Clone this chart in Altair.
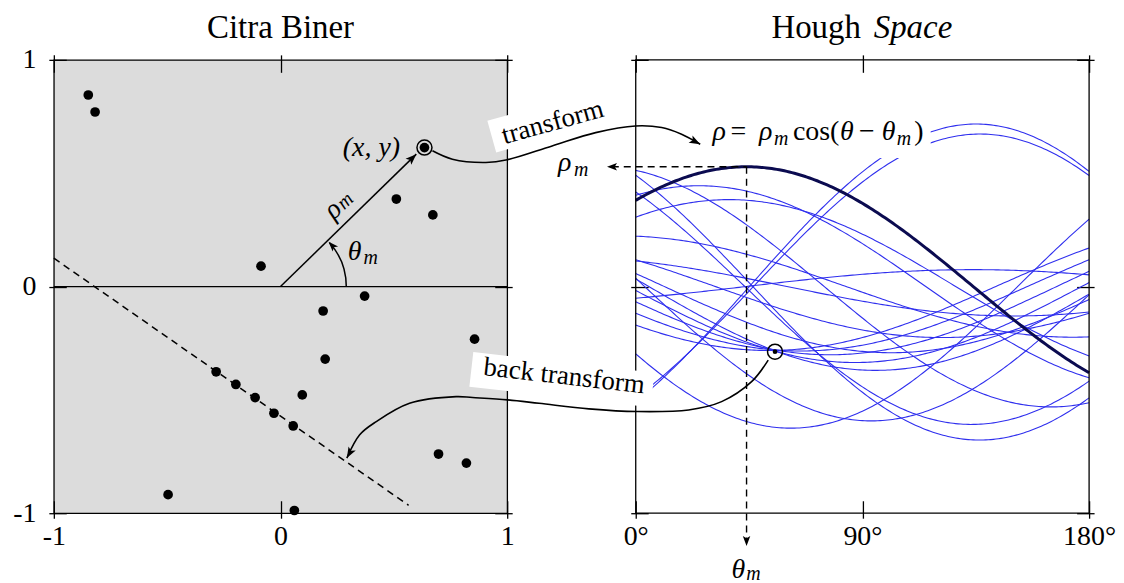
import altair as alt
import pandas as pd

SERIF = "Liberation Serif"

# ---------------- data ----------------
# binary image foreground points (x, y)
PX = [-0.848, -0.818, -0.086, 0.635, 0.511, 0.672, -0.284, -0.197, -0.112, -0.029,
      0.056, -0.496, 0.061, 0.371, 0.188, 0.197, 0.096, 0.856, 0.697, 0.820]
PY = [0.845, 0.770, 0.090, 0.613, 0.386, 0.316, -0.376, -0.432, -0.490, -0.559,
      -0.615, -0.918, -0.988, -0.042, -0.108, -0.320, -0.478, -0.232, -0.739, -0.779]
HILITE = 3                      # index of the (x, y) point
X_TICKS = [-1, 0, 1]
Y_TICKS = [-1, 0, 1]
TH_TICKS = [0, 90, 180]
RHO_MAX = 1.67
RHO_TICKS = [-RHO_MAX, 0, RHO_MAX]

# detected line (dashed) in image space
DASH_X = [-1.0, 0.565]
DASH_Y = [0.125, -0.965]
# rho_m vector tip, theta_m
RHO_TIP = (0.599, 0.584)
THETA_M = 44.0
RHO_M = 0.8826
# intersection of the collinear points' curves in Hough space
PEAK = (55.3, -0.48)

# annotation curves (Hough-space units: degrees, rho)
TR_T = [-80.7, -72.8, -59.5, -51.0, -33.2, -15.9, -0.1, 10.3, 18.2, 25.6]
TR_R = [1.000, 0.938, 0.914, 0.934, 1.036, 1.134, 1.183, 1.171, 1.122, 1.048]
BK_T = [52.6, 46.0, 34.1, 21.0, 0.5, -18.6, -38.4, -50.9, -64.8, -71.3, -89.8, -103.0, -109.6, -114.7]
BK_R = [-0.542, -0.701, -0.848, -0.909, -0.921, -0.901, -0.860, -0.835, -0.818, -0.811, -0.860, -0.995, -1.092, -1.264]

W = 455
H = 455
BLUE = "#2f2fee"
NAVY = "#0b0b50"
ARROW = "M0,0L-0.75,2L0,1.55L0.75,2Z"

pts = pd.DataFrame({"x": PX, "y": PY, "id": list(range(len(PX)))})

xs = alt.Scale(domain=[-1, 1], nice=False, zero=False)
ys = alt.Scale(domain=[-1, 1], nice=False, zero=False)
ts = alt.Scale(domain=[0, 180], nice=False, zero=False)
rs = alt.Scale(domain=[-RHO_MAX, RHO_MAX], nice=False, zero=False)


def ax(orient, values, labels=True, pad=5, expr="'' + datum.value"):
    kw = dict(orient=orient, values=values, offset=-12.5, tickSize=17.5, tickWidth=1.3,
              tickColor="black", domain=False, grid=False, title=None)
    if labels:
        kw.update(labelFont=SERIF, labelFontSize=28, labelColor="black", labelPadding=pad,
                  labelExpr=expr, labelFlush=False, labelOverlap=False)
    else:
        kw.update(labels=False)
    return alt.Axis(**kw)


def P(xscale, yscale, xf="x", yf="y"):
    return dict(x=alt.X(f"{xf}:Q", scale=xscale, axis=None),
                y=alt.Y(f"{yf}:Q", scale=yscale, axis=None))


def one(x, y, **more):
    d = {"x": [x], "y": [y]}
    d.update({k: [v] for k, v in more.items()})
    return pd.DataFrame(d)


def text(xscale, yscale, x, y, s, size=28, style="normal", align="center",
         baseline="middle", angle=0):
    return alt.Chart(one(x, y)).mark_text(
        text=s, font=SERIF, fontSize=size, fontStyle=style, align=align,
        baseline=baseline, angle=angle, color="black").encode(**P(xscale, yscale))


def head(xscale, yscale, x, y, bearing, size=121):
    return alt.Chart(one(x, y)).mark_point(
        shape=ARROW, size=size, filled=True, color="black", opacity=1,
        strokeWidth=0, angle=bearing).encode(**P(xscale, yscale))


# ---------------- left panel: Citra Biner ----------------
dots = alt.Chart(pts).mark_circle(size=95, color="black", opacity=1).encode(
    x=alt.X("x:Q", scale=xs, axis=ax("bottom", X_TICKS, pad=4)),
    y=alt.Y("y:Q", scale=ys, axis=ax("left", Y_TICKS, pad=13)))
mirror_l = alt.Chart(pts).mark_point(opacity=0).encode(
    x=alt.X("x:Q", scale=xs, axis=ax("top", X_TICKS, labels=False)),
    y=alt.Y("y:Q", scale=ys, axis=ax("right", Y_TICKS, labels=False)))

zero_line = alt.Chart(pd.DataFrame({"x": [-1], "x2": [1], "y": [0]})).mark_rule(
    color="black", strokeWidth=1.3).encode(x2="x2:Q", **P(xs, ys))
dashed = alt.Chart(pd.DataFrame({"x": DASH_X, "y": DASH_Y})).mark_line(
    color="black", strokeWidth=1.5, strokeDash=[7, 5]).encode(**P(xs, ys))
rho_vec = alt.Chart(pd.DataFrame({"x": [0, RHO_TIP[0]], "y": [0, RHO_TIP[1]]})).mark_line(
    color="black", strokeWidth=1.5).encode(**P(xs, ys))
rho_head = head(xs, ys, RHO_TIP[0], RHO_TIP[1], 90 - THETA_M)
arc = alt.Chart(one(0, 0)).mark_arc(
    radius=66, radius2=66, theta=0.84, theta2=1.5708, stroke="black",
    strokeWidth=1.5, fillOpacity=0).encode(**P(xs, ys))
arc_head = head(xs, ys, 0.212, 0.198, 317, size=100)
ring_l = alt.Chart(one(PX[HILITE], PY[HILITE])).mark_point(
    shape="circle", size=227, filled=False, color="black", strokeWidth=1.5,
    opacity=1).encode(**P(xs, ys))

left = alt.layer(
    dots, mirror_l, zero_line, dashed, rho_vec, rho_head, arc, arc_head, ring_l,
    text(xs, ys, 0.401, 0.613, "(x, y)", style="italic"),
    text(xs, ys, 0.232, 0.338, "ρ", style="italic", angle=316),
    text(xs, ys, 0.2857, 0.378, "m", size=20, style="italic", angle=316),
    text(xs, ys, 0.327, 0.152, "θ", style="italic"),
    text(xs, ys, 0.398, 0.125, "m", size=20, style="italic"),
    text(xs, ys, 0.0, 1.0945, "Citra Biner", size=33, baseline="alphabetic"),
).resolve_axis(x="independent", y="independent").properties(
    width=W, height=H,
    view=alt.ViewBackground(fill="#dcdcdc", stroke="black", strokeWidth=1.3))

# ---------------- right panel: Hough Space ----------------
hough = alt.Chart(pts).transform_calculate(
    th="sequence(0, 181, 1)").transform_flatten(["th"]).transform_calculate(
    rho="datum.x * cos(datum.th * PI / 180) + datum.y * sin(datum.th * PI / 180)")
curves = hough.mark_line(color=BLUE, strokeWidth=1.1).encode(
    x=alt.X("th:Q", scale=ts, axis=ax("bottom", TH_TICKS, pad=4, expr="datum.value + '°'")),
    y=alt.Y("rho:Q", scale=rs, axis=ax("left", RHO_TICKS, labels=False)),
    detail="id:N")
mirror_r = alt.Chart(pd.DataFrame({"x": [0, 180], "y": [-RHO_MAX, RHO_MAX]})).mark_point(
    opacity=0).encode(
    x=alt.X("x:Q", scale=ts, axis=ax("top", TH_TICKS, labels=False)),
    y=alt.Y("y:Q", scale=rs, axis=ax("right", RHO_TICKS, labels=False)))
bold = hough.transform_filter(f"datum.id == {HILITE}").mark_line(
    color=NAVY, strokeWidth=3).encode(**P(ts, rs, "th", "rho"))
frame = alt.Chart(pd.DataFrame({"x": [0], "x2": [180], "y": [-RHO_MAX], "y2": [RHO_MAX]})).mark_rect(
    fillOpacity=0, stroke="black", strokeWidth=1.3).encode(x2="x2:Q", y2="y2:Q", **P(ts, rs))
formula_bg = alt.Chart(pd.DataFrame({"x": [26.9], "x2": [117.1], "y": [0.947], "y2": [1.30]})).mark_rect(
    color="white").encode(x2="x2:Q", y2="y2:Q", **P(ts, rs))
box_tr = alt.Chart(one(-34.1, 1.224)).mark_point(
    shape="M-1,-0.273L1,-0.273L1,0.273L-1,0.273Z", size=121 ** 2, filled=True,
    color="white", opacity=1, strokeWidth=0, angle=344.4).encode(**P(ts, rs))
box_bk = alt.Chart(one(-29.3, -0.686)).mark_point(
    shape="M-1,-0.191L1,-0.191L1,0.191L-1,0.191Z", size=183 ** 2, filled=True,
    color="white", opacity=1, strokeWidth=0, angle=6.5).encode(**P(ts, rs))

tr_curve = alt.Chart(pd.DataFrame({"x": TR_T, "y": TR_R, "k": list(range(len(TR_T)))})).mark_line(
    color="black", strokeWidth=1.6, interpolate="catmull-rom").encode(
    order="k:Q", **P(ts, rs))
tr_head = head(ts, rs, TR_T[-1], TR_R[-1], 118)
bk_curve = alt.Chart(pd.DataFrame({"x": BK_T, "y": BK_R, "k": list(range(len(BK_T)))})).mark_line(
    color="black", strokeWidth=1.6, interpolate="catmull-rom").encode(
    order="k:Q", **P(ts, rs))
bk_head = head(ts, rs, BK_T[-1], BK_R[-1], 209)

rho_dash = alt.Chart(pd.DataFrame({"x": [THETA_M, -9.5], "y": [RHO_M, RHO_M]})).mark_line(
    color="black", strokeWidth=1.4, strokeDash=[7, 5]).encode(**P(ts, rs))
rho_dash_head = head(ts, rs, -11.4, RHO_M, 270, size=100)
th_dash = alt.Chart(pd.DataFrame({"x": [THETA_M, THETA_M], "y": [RHO_M, -1.88]})).mark_line(
    color="black", strokeWidth=1.4, strokeDash=[7, 5]).encode(**P(ts, rs))
th_dash_head = head(ts, rs, THETA_M, -1.912, 180, size=100)

ring_r = alt.Chart(one(*PEAK)).mark_point(
    shape="circle", size=227, filled=False, color="black", strokeWidth=1.5,
    opacity=1).encode(**P(ts, rs))
dot_r = alt.Chart(one(*PEAK)).mark_circle(size=22, color="black", opacity=1).encode(**P(ts, rs))

FB = 1.083   # formula baseline
SB = 1.046   # subscript baseline
right = alt.layer(
    curves, mirror_r, bold, frame, formula_bg, box_tr, box_bk,
    text(ts, rs, -32.1, 1.152, "transform", size=27, baseline="alphabetic", angle=344.4),
    text(ts, rs, -28.8, -0.719, "back transform", size=27, baseline="alphabetic", angle=6.5),
    tr_curve, tr_head, bk_curve, bk_head,
    rho_dash, rho_dash_head, th_dash, th_dash_head, ring_r, dot_r,
    # formula  rho = rho_m cos(theta - theta_m)
    text(ts, rs, 30.5, FB, "ρ", style="italic", align="left", baseline="alphabetic"),
    text(ts, rs, 37.6, FB, "=", align="left", baseline="alphabetic"),
    text(ts, rs, 48.9, FB, "ρ", style="italic", align="left", baseline="alphabetic"),
    text(ts, rs, 54.9, SB, "m", size=20, style="italic", align="left", baseline="alphabetic"),
    text(ts, rs, 62.4, FB, "cos(", align="left", baseline="alphabetic"),
    text(ts, rs, 81.1, FB, "θ", style="italic", align="left", baseline="alphabetic"),
    text(ts, rs, 88.6, FB, "−", align="left", baseline="alphabetic"),
    text(ts, rs, 97.7, FB, "θ", style="italic", align="left", baseline="alphabetic"),
    text(ts, rs, 103.6, SB, "m", size=20, style="italic", align="left", baseline="alphabetic"),
    text(ts, rs, 110.6, FB, ")", align="left", baseline="alphabetic"),
    # rho_m label
    text(ts, rs, -30.9, 0.848, "ρ", style="italic", align="left", baseline="alphabetic"),
    text(ts, rs, -24.5, 0.818, "m", size=20, style="italic", align="left", baseline="alphabetic"),
    # theta_m label
    text(ts, rs, 38.0, -2.147, "θ", style="italic", align="left", baseline="alphabetic"),
    text(ts, rs, 43.9, -2.165, "m", size=20, style="italic", align="left", baseline="alphabetic"),
    # title
    text(ts, rs, 89.4, 1.828, "Hough", size=33, align="right", baseline="alphabetic"),
    text(ts, rs, 94.5, 1.828, "Space", size=33, style="italic", align="left", baseline="alphabetic"),
).resolve_axis(x="independent", y="independent").properties(
    width=W, height=H, view=alt.ViewBackground(strokeWidth=0))

chart = alt.hconcat(left, right, spacing=129, bounds="flush").properties(
    padding={"left": 4, "top": 2, "right": 0, "bottom": 0},
    background="white",
).configure_view(strokeWidth=0)

chart.save("out.html", embed_options={"renderer": "svg", "actions": False})
